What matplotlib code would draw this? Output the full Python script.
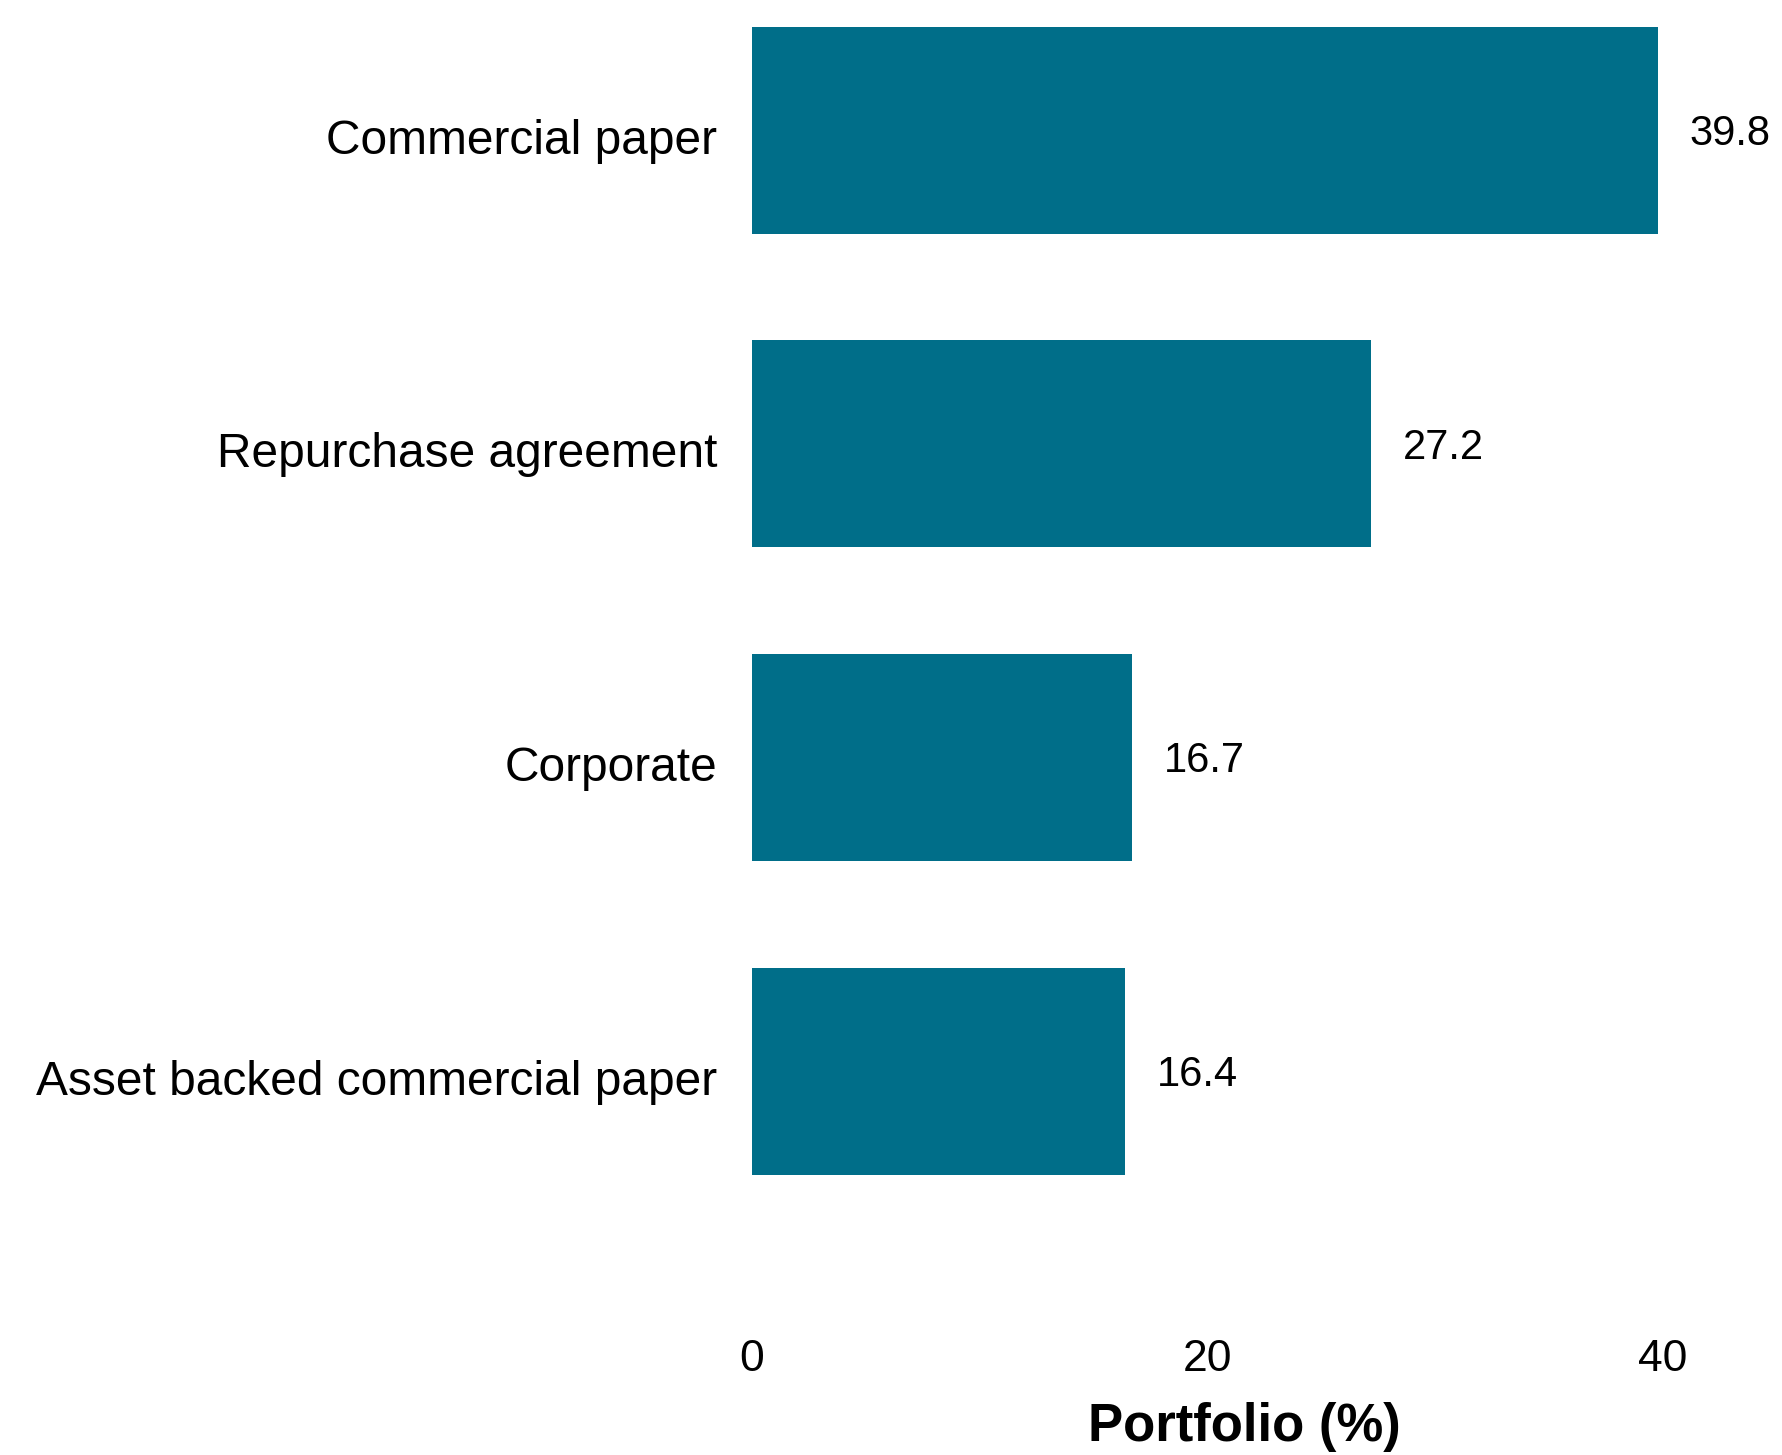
import matplotlib.pyplot as plt
from matplotlib.transforms import ScaledTranslation

plt.rcParams['font.family'] = ['Liberation Sans', 'DejaVu Sans']

# Portfolio composition by security type
categories = ['Commercial paper', 'Repurchase agreement', 'Corporate',
              'Asset backed commercial paper']
values = [39.8, 27.2, 16.7, 16.4]
xticks = [0, 20, 40]

bar_color = '#006E89'

fig = plt.figure(figsize=(17.82, 14.55), dpi=100)
ax = fig.add_axes([0.422, 0.0914, 0.553, 0.9052])

pos = list(range(len(categories)))
ax.barh(pos, values, height=0.66, color=bar_color)

# value labels just past the end of each bar
for y, v in zip(pos, values):
    ax.text(v + 1.4, y + 0.012, f'{v:.1f}', va='center', ha='left',
            fontsize=30, clip_on=False)

ax.set_xlim(0, 43.3)
ax.set_ylim(3.8, -0.4)
ax.set_yticks(pos)
ax.set_yticklabels(categories, fontsize=34.5)
ax.set_xticks(xticks)
ax.set_xticklabels([str(t) for t in xticks], fontsize=32)
ax.tick_params(axis='both', length=0)
ax.tick_params(axis='y', pad=25)
ax.tick_params(axis='x', pad=12)
ax.set_xlabel('Portfolio (%)', fontsize=38, fontweight='bold', labelpad=16)

# nudge category labels down a touch
shift = ScaledTranslation(0, -0.06, fig.dpi_scale_trans)
for lbl in ax.get_yticklabels():
    lbl.set_transform(lbl.get_transform() + shift)

for side in ['top', 'right', 'bottom', 'left']:
    ax.spines[side].set_visible(False)

plt.savefig('out.png', dpi=100)
